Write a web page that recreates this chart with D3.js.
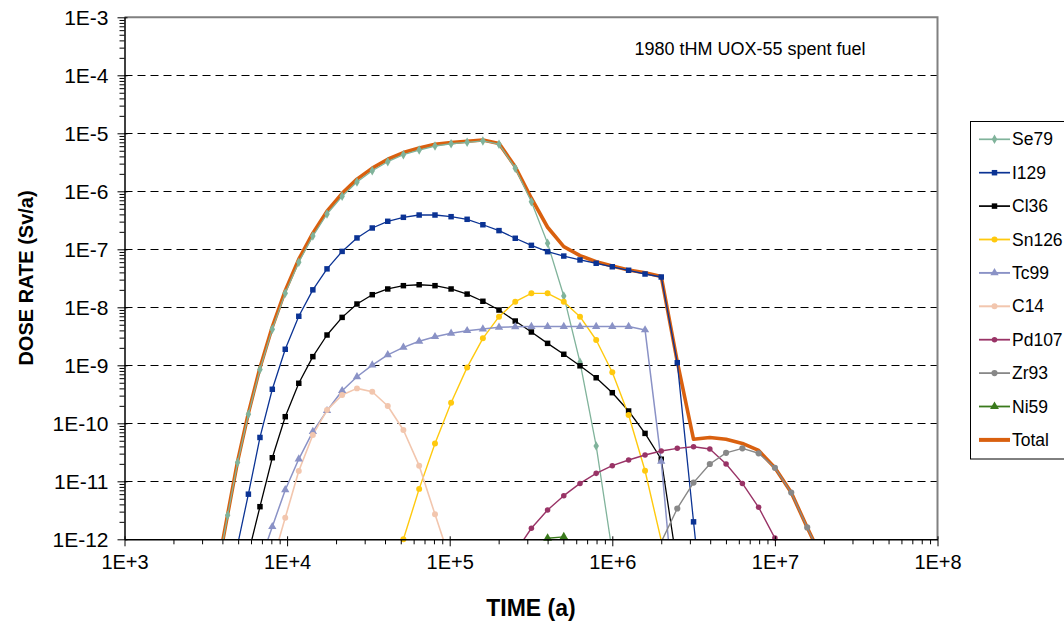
<!DOCTYPE html>
<html><head><meta charset="utf-8">
<script src="https://cdn.jsdelivr.net/npm/d3@7"></script>
<style>
body{margin:0;background:#fff;}
svg{display:block;font-family:"Liberation Sans",Arial,sans-serif;}
</style>
</head><body>
<svg id="chart" width="1064" height="624"></svg>
<script>
const _ = null;
// Time grid (years)
const times = [3.8e3, 4.31e3, 4.96e3, 5.78e3, 6.81e3, 8.11e3, 9.74e3, 1.18e4, 1.44e4, 1.76e4,
  2.18e4, 2.69e4, 3.34e4, 4.16e4, 5.19e4, 6.49e4, 8.12e4, 1.02e5, 1.28e5, 1.6e5,
  2.01e5, 2.53e5, 3.18e5, 4.0e5, 5.03e5, 6.33e5, 7.96e5, 1.0e6, 1.26e6, 1.59e6,
  2.0e6, 2.51e6, 3.16e6, 3.98e6, 5.01e6, 6.31e6, 7.94e6, 1.0e7, 1.26e7, 1.58e7, 2.0e7];

// Dose rates (Sv/a)
const se79 = [3.8e-13, 2.6e-12, 2.1e-11, 1.43e-10, 8.5e-10, 4.2e-9, 1.74e-8, 6.0e-8, 1.69e-7, 4.06e-7,
  8.2e-7, 1.45e-6, 2.26e-6, 3.24e-6, 4.28e-6, 5.15e-6, 6.04e-6, 6.6e-6, 7.0e-6, 7.4e-6,
  6.5e-6, 2.5e-6, 6.6e-7, 1.27e-7, 1.57e-8, 1.13e-9, 4.07e-11, 6e-13, _, _,
  _, _, _, _, _, _, _, _, _, _, _];
const i129 = [_, _, 8e-13, 6.0e-12, 5.7e-11, 3.86e-10, 1.89e-9, 7.0e-9, 2.0e-8, 4.6e-8,
  9.2e-8, 1.57e-7, 2.33e-7, 3.04e-7, 3.56e-7, 3.9e-7, 3.9e-7, 3.65e-7, 3.29e-7, 2.65e-7,
  2.1e-7, 1.55e-7, 1.17e-7, 9.1e-8, 7.65e-8, 6.55e-8, 5.75e-8, 5.0e-8, 4.35e-8, 3.75e-8,
  3.33e-8, 1.11e-9, 2.0e-12, 4e-15, _, _, _, _, _, _, _];
const cl36 = [_, _, _, 5.7e-13, 3.65e-12, 2.55e-11, 1.3e-10, 4.9e-10, 1.41e-9, 3.33e-9,
  6.7e-9, 1.14e-8, 1.65e-8, 2.07e-8, 2.36e-8, 2.45e-8, 2.36e-8, 2.07e-8, 1.69e-8, 1.27e-8,
  8.97e-9, 5.8e-9, 3.75e-9, 2.39e-9, 1.55e-9, 9.8e-10, 6.1e-10, 3.37e-10, 1.63e-10, 6.7e-11,
  2.4e-11, 3.5e-13, _, _, _, _, _, _, _, _, _];
const sn126 = [_, _, _, _, _, _, _, _, _, _,
  _, _, _, _, 1.0e-12, 7.4e-12, 4.5e-11, 2.26e-10, 9.2e-10, 2.92e-9,
  6.9e-9, 1.25e-8, 1.74e-8, 1.74e-8, 1.25e-8, 6.9e-9, 2.73e-9, 7.6e-10, 1.39e-10, 1.52e-11,
  9.5e-13, _, _, _, _, _, _, _, _, _, _];
const tc99 = [_, _, _, _, 4e-13, 1.65e-12, 7.1e-12, 2.42e-11, 7.2e-11, 1.65e-10,
  3.65e-10, 6.35e-10, 1.01e-9, 1.51e-9, 2.04e-9, 2.6e-9, 3.11e-9, 3.56e-9, 3.95e-9, 4.23e-9,
  4.52e-9, 4.6e-9, 4.65e-9, 4.65e-9, 4.65e-9, 4.65e-9, 4.65e-9, 4.65e-9, 4.65e-9, 4.07e-9,
  2.2e-11, 2e-14, _, _, _, _, _, _, _, _, _];
const c14 = [_, _, _, _, _, 4e-13, 2.35e-12, 1.51e-11, 6.3e-11, 1.69e-10,
  3.08e-10, 4.0e-10, 3.5e-10, 1.99e-10, 7.65e-11, 1.86e-11, 2.7e-12, 3.9e-13, _, _,
  _, _, _, _, _, _, _, _, _, _,
  _, _, _, _, _, _, _, _, _, _, _];
const pd107 = [_, _, _, _, _, _, _, _, _, _,
  _, _, _, _, _, _, _, _, _, _,
  _, 6e-13, 1.55e-12, 3.2e-12, 5.65e-12, 9.2e-12, 1.37e-11, 1.86e-11, 2.33e-11, 2.84e-11,
  3.33e-11, 3.7e-11, 3.95e-11, 3.6e-11, 1.99e-11, 9.2e-12, 3.56e-12, 1.05e-12, 1.5e-13, _, _];
const zr93 = [_, _, _, _, _, _, _, _, _, _,
  _, _, _, _, _, _, _, _, _, _,
  _, _, _, _, _, _, _, _, _, _,
  9e-13, 3.4e-12, 9.5e-12, 1.99e-11, 3.1e-11, 3.7e-11, 3.04e-11, 1.71e-11, 6.4e-12, 1.6e-12, 4e-13];
const ni59 = [_, _, _, _, _, _, _, _, _, _,
  _, _, _, _, _, _, _, _, _, _,
  _, _, 7e-13, 1.04e-12, 1.1e-12, 7e-13, _, _, _, _,
  _, _, _, _, _, _, _, _, _, _, _];
const total = [4e-13, 2.7e-12, 2.2e-11, 1.5e-10, 9.1e-10, 4.6e-9, 1.94e-8, 6.75e-8, 1.9e-7, 4.55e-7,
  9.2e-7, 1.62e-6, 2.51e-6, 3.57e-6, 4.66e-6, 5.57e-6, 6.46e-6, 6.9e-6, 7.3e-6, 7.65e-6,
  6.7e-6, 2.65e-6, 7.6e-7, 2.4e-7, 1.11e-7, 7.8e-8, 6.1e-8, 5.15e-8, 4.4e-8, 3.95e-8,
  3.4e-8, 1.15e-9, 5.3e-11, 5.7e-11, 5.3e-11, 4.5e-11, 3.4e-11, 1.71e-11, 6.4e-12, 1.6e-12, 4e-13];

const seriesNames = ["Se79", "I129", "Cl36", "Sn126", "Tc99", "C14", "Pd107", "Zr93", "Ni59", "Total"];
const seriesValues = [se79, i129, cl36, sn126, tc99, c14, pd107, zr93, ni59, total];

const xTickValues = [1e3, 1e4, 1e5, 1e6, 1e7, 1e8];
const xTickLabels = ["1E+3", "1E+4", "1E+5", "1E+6", "1E+7", "1E+8"];
const yTickValues = [1e-12, 1e-11, 1e-10, 1e-9, 1e-8, 1e-7, 1e-6, 1e-5, 1e-4, 1e-3];
const yTickLabels = ["1E-12", "1E-11", "1E-10", "1E-9", "1E-8", "1E-7", "1E-6", "1E-5", "1E-4", "1E-3"];
const xTitle = "TIME (a)";
const yTitle = "DOSE RATE (Sv/a)";
const annotation = "1980 tHM UOX-55 spent fuel";

// ---- styles ----
const styles = {
  Se79:  {color: "#80b39b", symbol: d3.symbolDiamond, size: 26, w: 1.3},
  I129:  {color: "#0b3394", symbol: d3.symbolSquare, size: 30, w: 1.3},
  Cl36:  {color: "#000000", symbol: d3.symbolSquare, size: 30, w: 1.3},
  Sn126: {color: "#ffc90e", symbol: d3.symbolCircle, size: 28, w: 1.4},
  Tc99:  {color: "#8a92c6", symbol: d3.symbolTriangle, size: 30, w: 1.5},
  C14:   {color: "#f2c6ae", symbol: d3.symbolCircle, size: 28, w: 1.6},
  Pd107: {color: "#993366", symbol: d3.symbolCircle, size: 24, w: 1.4},
  Zr93:  {color: "#888888", symbol: d3.symbolCircle, size: 30, w: 1.4},
  Ni59:  {color: "#3a7a1c", symbol: d3.symbolTriangle, size: 34, w: 1.4},
  Total: {color: "#d9600f", symbol: null, size: 0, w: 3.6}
};

const svg = d3.select("#chart");
const L = 124.5, R = 937.5, T = 17.3, B = 539.3;
const x = d3.scaleLog().domain([1e3, 1e8]).range([L, R]);
const y = d3.scaleLog().domain([1e-12, 1e-3]).range([B, T]);

// grid lines
svg.append("g").selectAll("line")
  .data(yTickValues.filter(v => v > 1e-12 && v < 1e-3))
  .join("line")
  .attr("x1", L).attr("x2", R)
  .attr("y1", d => Math.round(y(d)) + 0.5).attr("y2", d => Math.round(y(d)) + 0.5)
  .attr("stroke", "#000").attr("stroke-width", 1).attr("stroke-dasharray", "8,5");

// top & right border
svg.append("path")
  .attr("d", `M${L},${T}H${R}V${B}`)
  .attr("fill", "none").attr("stroke", "#808080").attr("stroke-width", 2);

// clip
svg.append("defs").append("clipPath").attr("id", "plotclip")
  .append("rect").attr("x", L).attr("y", T).attr("width", R - L).attr("height", B - T);

const plot = svg.append("g").attr("clip-path", "url(#plotclip)");
const line = d3.line()
  .defined(d => d.v != null)
  .x(d => x(d.t)).y(d => y(d.v));

// draw Total first (markers of other series appear above it)
const order = [9, 0, 1, 2, 3, 4, 5, 6, 7, 8];
order.forEach(i => {
  const name = seriesNames[i];
  const st = styles[name];
  const pts = times.map((t, j) => ({t: t, v: seriesValues[i][j]}));
  plot.append("path")
    .datum(pts)
    .attr("d", line)
    .attr("fill", "none")
    .attr("stroke", st.color)
    .attr("stroke-width", st.w)
    .attr("stroke-linejoin", "round");
});
const mk = svg.append("g");
order.forEach(i => {
  const name = seriesNames[i];
  const st = styles[name];
  if (!st.symbol) return;
  const pts = times.map((t, j) => ({t: t, v: seriesValues[i][j]}))
    .filter(d => d.v != null && d.v >= 0.99e-12);
  mk.append("g").selectAll("path").data(pts).join("path")
    .attr("transform", d => `translate(${x(d.t)},${y(d.v)})`)
    .attr("d", d3.symbol().type(st.symbol).size(st.size))
    .attr("fill", st.color);
});

// Y axis
const yMinor = [];
yTickValues.slice(0, -1).forEach(v => { for (let m = 2; m <= 9; m++) yMinor.push(v * m); });
const yAxisMinor = svg.append("g").attr("transform", `translate(${L},0)`)
  .call(d3.axisLeft(y).tickValues(yMinor).tickFormat("").tickSize(5));
yAxisMinor.select(".domain").remove();
yAxisMinor.selectAll("line").attr("stroke", "#000");
const yAxis = svg.append("g").attr("transform", `translate(${L},0)`)
  .call(d3.axisLeft(y).tickValues(yTickValues).tickFormat((d, i) => yTickLabels[i]).tickSize(7).tickPadding(9).tickSizeOuter(0));
yAxis.select(".domain").attr("stroke", "#000").attr("stroke-width", 1.5);
yAxis.selectAll(".tick line").attr("x1", 3).attr("stroke", "#000");
yAxis.selectAll(".tick text").attr("font-size", 21).attr("fill", "#000")
  .attr("font-family", "'Liberation Sans', Arial, sans-serif");

// X axis
const xMinor = [];
xTickValues.slice(0, -1).forEach(v => { for (let m = 2; m <= 9; m++) xMinor.push(v * m); });
const xAxisMinor = svg.append("g").attr("transform", `translate(0,${B})`)
  .call(d3.axisBottom(x).tickValues(xMinor).tickFormat("").tickSize(5));
xAxisMinor.select(".domain").remove();
xAxisMinor.selectAll("line").attr("stroke", "#000");
const xAxis = svg.append("g").attr("transform", `translate(0,${B})`)
  .call(d3.axisBottom(x).tickValues(xTickValues).tickFormat((d, i) => xTickLabels[i]).tickSize(7).tickPadding(9).tickSizeOuter(0));
xAxis.select(".domain").attr("stroke", "#000").attr("stroke-width", 1.5);
xAxis.selectAll(".tick line").attr("y1", -3).attr("stroke", "#000");
xAxis.selectAll(".tick text").attr("font-size", 20).attr("fill", "#000")
  .attr("font-family", "'Liberation Sans', Arial, sans-serif");

// axis titles
svg.append("text")
  .attr("x", 531).attr("y", 608)
  .attr("text-anchor", "middle").attr("dominant-baseline", "central")
  .attr("font-size", 23).attr("font-weight", "bold").text(xTitle);
svg.append("text")
  .attr("transform", "translate(26,278) rotate(-90)")
  .attr("text-anchor", "middle").attr("dominant-baseline", "central")
  .attr("font-size", 20).attr("font-weight", "bold").text(yTitle);

// annotation
svg.append("text")
  .attr("x", 750).attr("y", 49)
  .attr("text-anchor", "middle").attr("dominant-baseline", "central")
  .attr("font-size", 18).text(annotation);

// legend
const lg = svg.append("g");
lg.append("rect").attr("x", 970.5).attr("y", 121.5).attr("width", 120).attr("height", 337.5)
  .attr("fill", "#fff").attr("stroke", "#000").attr("stroke-width", 1);
seriesNames.forEach((name, i) => {
  const st = styles[name];
  const cy = 139.3 + i * 33.4;
  const g = lg.append("g");
  g.append("line").attr("x1", 979).attr("x2", 1010).attr("y1", cy).attr("y2", cy)
    .attr("stroke", st.color).attr("stroke-width", name === "Total" ? 4 : st.w + 0.4);
  if (st.symbol) {
    g.append("path").attr("transform", `translate(994.5,${cy})`)
      .attr("d", d3.symbol().type(st.symbol).size(st.size)).attr("fill", st.color);
  }
  g.append("text").attr("x", 1012).attr("y", cy).attr("dominant-baseline", "central")
    .attr("font-size", 17.5).attr("fill", "#000").text(name);
});
</script>
</body></html>
